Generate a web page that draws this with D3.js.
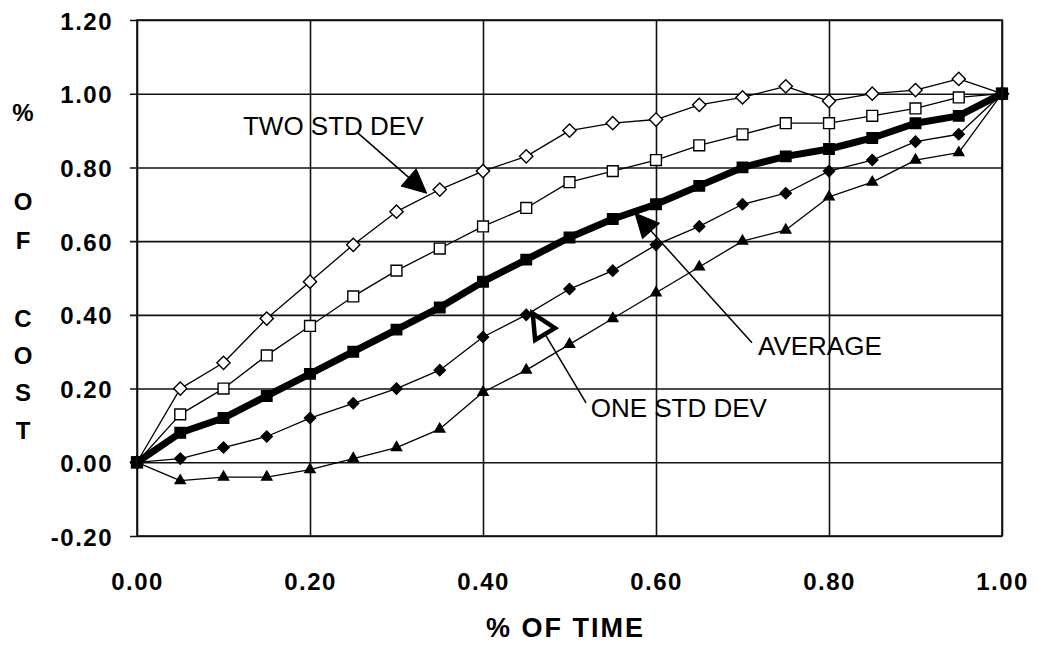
<!DOCTYPE html>
<html>
<head>
<meta charset="utf-8">
<script src="https://cdn.jsdelivr.net/npm/d3@7"></script>
<style>
  html, body { margin: 0; padding: 0; background: #fff; }
  svg { display: block; }
  .tick text { font-family: "Liberation Sans", Arial, Helvetica, sans-serif; font-weight: bold; font-size: 24px; letter-spacing: 1.5px; fill: #000; }
</style>
</head>
<body>
<svg id="chart" width="1038" height="647"></svg>
<script>
// Share of time elapsed (x) at which each cost fraction is read
const timeFraction = [0.00, 0.05, 0.10, 0.15, 0.20, 0.25, 0.30, 0.35, 0.40, 0.45, 0.50,
                      0.55, 0.60, 0.65, 0.70, 0.75, 0.80, 0.85, 0.90, 0.95, 1.00];

// Cumulative share of cost for the average and the +/- 1 and 2 standard deviation bands
const twoStdDevUpper = [0.00, 0.20, 0.27, 0.39, 0.49, 0.59, 0.68, 0.74, 0.79, 0.83, 0.90,
                        0.92, 0.93, 0.97, 0.99, 1.02, 0.98, 1.00, 1.01, 1.04, 1.00];
const oneStdDevUpper = [0.00, 0.13, 0.20, 0.29, 0.37, 0.45, 0.52, 0.58, 0.64, 0.69, 0.76,
                        0.79, 0.82, 0.86, 0.89, 0.92, 0.92, 0.94, 0.96, 0.99, 1.00];
const averageCost    = [0.00, 0.08, 0.12, 0.18, 0.24, 0.30, 0.36, 0.42, 0.49, 0.55, 0.61,
                        0.66, 0.70, 0.75, 0.80, 0.83, 0.85, 0.88, 0.92, 0.94, 1.00];
const oneStdDevLower = [0.00, 0.01, 0.04, 0.07, 0.12, 0.16, 0.20, 0.25, 0.34, 0.40, 0.47,
                        0.52, 0.59, 0.64, 0.70, 0.73, 0.79, 0.82, 0.87, 0.89, 1.00];
const twoStdDevLower = [0.00, -0.05, -0.04, -0.04, -0.02, 0.01, 0.04, 0.09, 0.19, 0.25, 0.32,
                        0.39, 0.46, 0.53, 0.60, 0.63, 0.72, 0.76, 0.82, 0.84, 1.00];

// Axis tick values
const xTicks = [0.00, 0.20, 0.40, 0.60, 0.80, 1.00];
const yTicks = [-0.20, 0.00, 0.20, 0.40, 0.60, 0.80, 1.00, 1.20];

// Axis titles
const xTitle = "% OF TIME";
const yTitleLetters = ["%", "", "O", "F", "", "C", "O", "S", "T"];

// Callout labels: text position, leader start and arrow tip, in data units
const callouts = [
  { text: "TWO STD DEV", tx: 0.1225, ty: 0.888, fx: 0.2555, fy: 0.893, px: 0.3349, py: 0.730, open: false },
  { text: "AVERAGE",     tx: 0.7179, ty: 0.291, fx: 0.7110, fy: 0.324, px: 0.5757, py: 0.676, open: false },
  { text: "ONE STD DEV", tx: 0.5245, ty: 0.124, fx: 0.5191, fy: 0.161, px: 0.4575, py: 0.404, open: true }
];

const svg = d3.select("#chart");
const plotLeft = 137, plotRight = 1002, plotTop = 20, plotBottom = 536;

const x = d3.scaleLinear().domain([0, 1]).range([plotLeft, plotRight]);
const y = d3.scaleLinear().domain([-0.2, 1.2]).range([plotBottom, plotTop]);
// Plain hyphen for negatives, two decimals
const fmt = d => (Math.abs(d) < 1e-9 ? 0 : d).toFixed(2);

// Horizontal grid with the value labels on the left
const yAxis = svg.append("g")
  .attr("transform", `translate(${plotLeft - 7},0)`)
  .call(d3.axisLeft(y).tickValues(yTicks).tickFormat(fmt)
    .tickSizeInner(-(plotRight - plotLeft + 7)).tickSizeOuter(0).tickPadding(17));
yAxis.select(".domain").remove();
yAxis.selectAll(".tick line").attr("stroke", "#111").attr("stroke-width", 1.6);
yAxis.selectAll(".tick text").attr("dy", "0.38em");

// Vertical grid with the time labels below
const xAxis = svg.append("g")
  .attr("transform", `translate(0,${plotBottom})`)
  .call(d3.axisBottom(x).tickValues(xTicks).tickFormat(fmt)
    .tickSizeInner(-(plotBottom - plotTop)).tickSizeOuter(0).tickPadding(37));
xAxis.select(".domain").remove();
xAxis.selectAll(".tick line").attr("stroke", "#111").attr("stroke-width", 1.6);

// Axis titles
svg.append("text")
  .attr("x", (plotLeft + plotRight) / 2 - 4)
  .attr("y", 637)
  .attr("text-anchor", "middle")
  .style("font-family", '"Liberation Sans", Arial, Helvetica, sans-serif')
  .style("font-weight", "bold")
  .style("font-size", "27px")
  .style("letter-spacing", "2px")
  .text(xTitle);

const yTitle = svg.append("text")
  .attr("text-anchor", "middle")
  .style("font-family", '"Liberation Sans", Arial, Helvetica, sans-serif')
  .style("font-weight", "bold")
  .style("font-size", "24px");
const letterY = [121, 160, 210, 249, 288, 327, 364, 401, 439];
yTitleLetters.forEach((ch, i) => {
  if (!ch) return;
  yTitle.append("tspan").attr("x", 23).attr("y", letterY[i]).text(ch);
});

// Series definitions
const rows = (vals) => timeFraction.map((t, i) => ({ t, v: vals[i] }));
const line = d3.line().x(d => x(d.t)).y(d => y(d.v));

const series = [
  { vals: twoStdDevUpper, width: 1.3, marker: "diamond", size: 88, fill: "#fff" },
  { vals: oneStdDevUpper, width: 1.3, marker: "square", size: 118, fill: "#fff" },
  { vals: averageCost,    width: 7,   marker: "square", size: 110, fill: "#000" },
  { vals: oneStdDevLower, width: 1.3, marker: "diamond", size: 62, fill: "#000" },
  { vals: twoStdDevLower, width: 1.3, marker: "triangle", size: 45, fill: "#000" }
];

series.forEach(s => {
  svg.append("path")
    .datum(rows(s.vals))
    .attr("fill", "none")
    .attr("stroke", "#000")
    .attr("stroke-width", s.width)
    .attr("stroke-linejoin", "round")
    .attr("d", line);
});

series.forEach(s => {
  const type = s.marker === "triangle" ? d3.symbolTriangle : d3.symbolSquare;
  const sym = d3.symbol().type(type).size(s.size);
  svg.append("g").selectAll("path")
    .data(rows(s.vals))
    .join("path")
    .attr("d", sym)
    .attr("transform", d => `translate(${x(d.t)},${y(d.v)})` + (s.marker === "diamond" ? " rotate(45)" : ""))
    .attr("fill", s.fill)
    .attr("stroke", "#000")
    .attr("stroke-width", 1.4);
});

// Plot frame
svg.append("rect")
  .attr("x", plotLeft).attr("y", plotTop)
  .attr("width", plotRight - plotLeft).attr("height", plotBottom - plotTop)
  .attr("fill", "none").attr("stroke", "#111").attr("stroke-width", 1.6);

// Callouts with leader lines and arrowheads
const headLen = 24, headHalf = 11.5;
callouts.forEach(c => {
  const x0 = x(c.fx), y0 = y(c.fy), x1 = x(c.px), y1 = y(c.py);
  const len = Math.hypot(x1 - x0, y1 - y0);
  const ux = (x1 - x0) / len, uy = (y1 - y0) / len;
  const bx = x1 - ux * headLen, by = y1 - uy * headLen;
  const nx = -uy, ny = ux;

  svg.append("line")
    .attr("x1", x0).attr("y1", y0).attr("x2", bx).attr("y2", by)
    .attr("stroke", "#000").attr("stroke-width", 1.5);

  const pts = [[x1, y1], [bx + nx * headHalf, by + ny * headHalf], [bx - nx * headHalf, by - ny * headHalf]];
  svg.append("polygon")
    .attr("points", pts.map(p => p.join(",")).join(" "))
    .attr("fill", c.open ? "#fff" : "#000")
    .attr("stroke", "#000")
    .attr("stroke-width", c.open ? 4.5 : 1)
    .attr("stroke-linejoin", "miter");

  svg.append("text")
    .attr("x", x(c.tx)).attr("y", y(c.ty))
    .style("font-family", '"Liberation Sans", Arial, Helvetica, sans-serif')
    .style("font-size", "26px")
    .style("fill", "#000")
    .text(c.text);
});
</script>
</body>
</html>
